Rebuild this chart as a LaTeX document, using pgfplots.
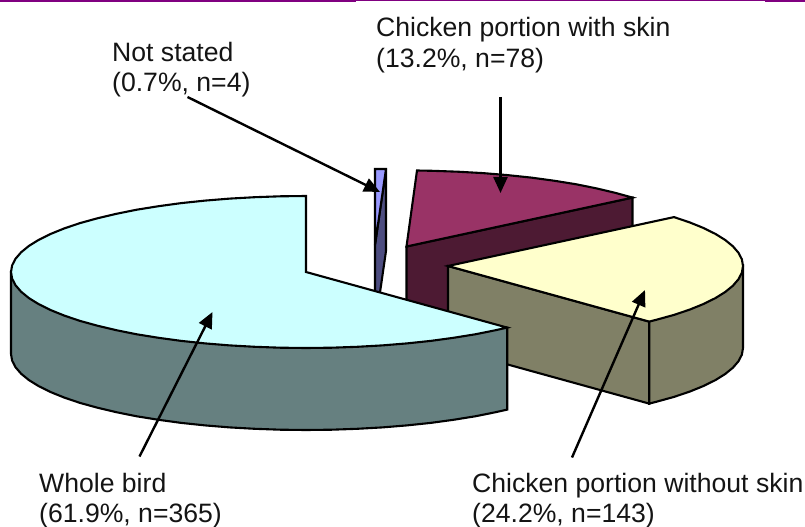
\documentclass[border=0pt]{standalone}
\usepackage{fontspec}
\setmainfont{Liberation Sans}
\usepackage{pgfplots}
\pgfplotsset{compat=1.18}
\usetikzlibrary{arrows.meta}
\definecolor{birdtop}{HTML}{CCFFFF}
\definecolor{birdside}{HTML}{668080}
\definecolor{yeltop}{HTML}{FFFFCC}
\definecolor{yelside}{HTML}{808066}
\definecolor{martop}{HTML}{993366}
\definecolor{marside}{HTML}{4D1A33}
\definecolor{bluetop}{HTML}{9999FF}
\definecolor{blueside}{HTML}{4D4D80}
\definecolor{rule}{HTML}{800080}
\tikzset{lab/.style={anchor=base west, inner sep=0pt, overlay, text=black!92, font=\fontsize{26.6bp}{30bp}\selectfont}}
\begin{document}
\begin{tikzpicture}[x=1bp,y=1bp]
\begin{axis}[
  name=pie, at={(0,0)}, anchor=south west,
  scale only axis, width=805bp, height=527bp,
  xmin=0, xmax=805, ymin=0, ymax=527, y dir=reverse,
  hide axis, clip=true,
  every axis plot/.append style={line width=2.1bp, line join=miter, mark=none},
]
% top rule
\addplot[draw=none, fill=rule] coordinates {(0,0)(805,0)(805,1.1)(0,1.1)} --cycle;
\addplot[draw=none, fill=rule] coordinates {(0,0)(356,0)(356,2)(0,2)} --cycle;
\addplot[draw=none, fill=rule] coordinates {(765,0)(805,0)(805,2)(765,2)} --cycle;
% not stated
\addplot[draw=black, fill=blueside] coordinates {(375,245)(386,169)(386,251)(375,327)} --cycle;
\addplot[draw=black, fill=bluetop] coordinates {(375,245)(375,169)(386,169)} --cycle;
% with skin
\addplot[draw=black, fill=marside] coordinates {(406.5,246.5)(632.5,197.6)(632.5,279.6)(406.5,328.5)} --cycle;
\addplot[draw=black, fill=martop] coordinates {(406.5,246.5)(417,170.5)(432.2,170.8)(457.7,171.7)(482.8,173.1)(507.4,175.1)(531.2,177.6)(554,180.7)(575.7,184.2)(596.1,188.3)(615.1,192.8)(632.5,197.6)} --cycle;
% without skin
\addplot[draw=black, fill=yelside] coordinates {(448,266)(649.2,321.6)(649.2,403.6)(448,348)} --cycle;
\addplot[draw=black, fill=yelside] coordinates {(743,266)(743,348)(741.9,354.6)(738.5,361.2)(732.9,367.7)(725.2,374)(715.4,380.1)(703.5,386)(689.7,391.6)(674,396.9)(656.6,401.7)(649.2,403.6)(649.2,321.6)} --cycle;
\addplot[draw=black, fill=yeltop] coordinates {(448,266)(674,217.1)(689.7,222.4)(703.5,228)(715.4,233.9)(725.2,240)(732.9,246.3)(738.5,252.8)(741.9,259.4)(743,266)(741.9,272.6)(738.5,279.2)(732.9,285.7)(725.2,292)(715.4,298.1)(703.5,304)(689.7,309.6)(674,314.9)(656.6,319.7)(649.2,321.6)} --cycle;
% whole bird
\addplot[draw=black, fill=birdside] coordinates {(11,272)(11,354)(12.1,360.6)(15.5,367.2)(21.1,373.7)(28.8,380)(38.6,386.1)(50.5,392)(64.3,397.6)(80,402.9)(97.4,407.7)(116.4,412.2)(136.8,416.3)(158.5,419.8)(181.3,422.9)(205.1,425.4)(229.7,427.4)(254.8,428.8)(280.3,429.7)(306,430)(331.7,429.7)(357.2,428.8)(382.3,427.4)(406.9,425.4)(430.7,422.9)(453.5,419.8)(475.2,416.3)(495.6,412.2)(507.2,409.6)(507.2,327.6)} --cycle;
\addplot[draw=black, fill=birdtop] coordinates {(306,272)(306,196)(280.3,196.3)(254.8,197.2)(229.7,198.6)(205.1,200.6)(181.3,203.1)(158.5,206.2)(136.8,209.7)(116.4,213.8)(97.4,218.3)(80,223.1)(64.3,228.4)(50.5,234)(38.6,239.9)(28.8,246)(21.1,252.3)(15.5,258.8)(12.1,265.4)(11,272)(12.1,278.6)(15.5,285.2)(21.1,291.7)(28.8,298)(38.6,304.1)(50.5,310)(64.3,315.6)(80,320.9)(97.4,325.7)(116.4,330.2)(136.8,334.3)(158.5,337.8)(181.3,340.9)(205.1,343.4)(229.7,345.4)(254.8,346.8)(280.3,347.7)(306,348)(331.7,347.7)(357.2,346.8)(382.3,345.4)(406.9,343.4)(430.7,340.9)(453.5,337.8)(475.2,334.3)(495.6,330.2)(507.2,327.6)} --cycle;
% arrows
\addplot[black, line width=2.4bp, -{Triangle[length=16bp,width=14bp]}] coordinates {(500.5,97)(500.5,193)};
\addplot[black, line width=2.4bp, -{Triangle[length=16bp,width=14bp]}] coordinates {(187.5,97)(380,192)};
\addplot[black, line width=2.4bp, -{Triangle[length=16bp,width=14bp]}] coordinates {(139.5,456.5)(212.5,312)};
\addplot[black, line width=2.4bp, -{Triangle[length=16bp,width=14bp]}] coordinates {(572,457.5)(645,290)};
% labels
\node[lab] at (axis cs:376,37) {Chicken portion with skin};
\node[lab] at (axis cs:376,67.5) {(13.2\%, n=78)};
\node[lab] at (axis cs:112,61.5) {Not stated};
\node[lab] at (axis cs:112,91.5) {(0.7\%, n=4)};
\node[lab] at (axis cs:39,492.7) {Whole bird};
\node[lab] at (axis cs:39,522.7) {(61.9\%, n=365)};
\node[lab] at (axis cs:472,492.7) {Chicken portion without skin};
\node[lab] at (axis cs:472,522.7) {(24.2\%, n=143)};
\end{axis}
\useasboundingbox (0,0) rectangle (805bp,527bp);
\end{tikzpicture}
\end{document}
